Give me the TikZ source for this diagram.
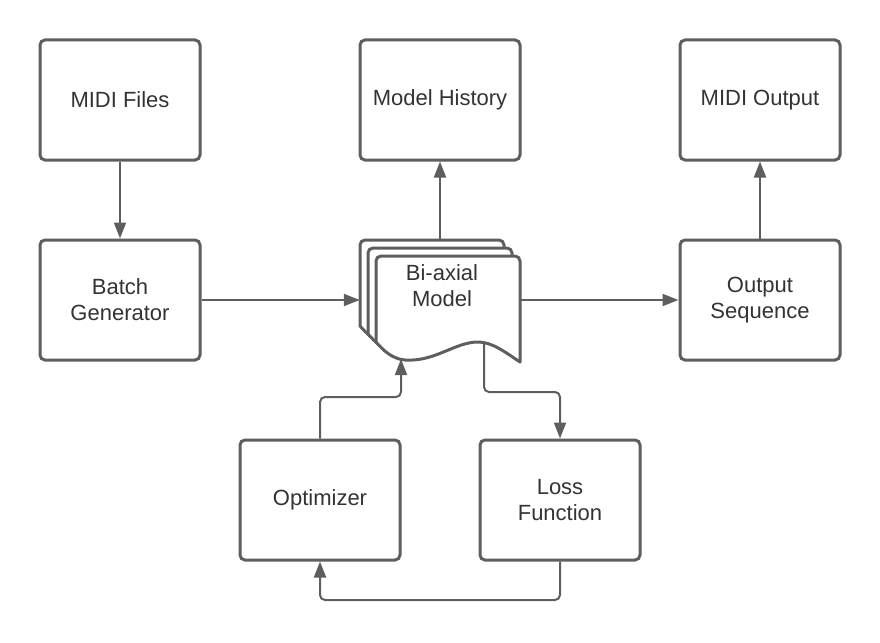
\documentclass[tikz,border=0pt]{standalone}
\usepackage{fontspec}
\setmainfont{Liberation Sans}
\usetikzlibrary{arrows.meta,calc}
\definecolor{lineg}{HTML}{5E5E5E}
\definecolor{textg}{HTML}{333333}
\begin{document}
\begin{tikzpicture}[x=1pt,y=-1pt,
  box/.style={draw=lineg, line width=3pt, rounded corners=5pt, fill=white,
    minimum width=160pt, minimum height=120pt, align=center, text=textg,
    font=\fontsize{22}{26}\selectfont},
  conn/.style={draw=lineg, line width=2pt, rounded corners=5pt,
    -{Triangle[length=16pt,width=12pt]}},
  page/.style={draw=lineg, line width=3pt, fill=white, line join=round}]
\useasboundingbox (0,0) rectangle (880,642);

\node[box] (files) at (120,100) {MIDI Files};
\node[box] (history) at (440,100) {Model History};
\node[box] (midiout) at (760,100) {MIDI Output};
\node[box] (batch) at (120,300) {Batch\\Generator};
\node[box] (outseq) at (760,300) {Output\\Sequence};
\node[box] (optim) at (320,500) {Optimizer};
\node[box] (loss) at (560,500) {Loss\\Function};

% multi-document shape
\foreach \d in {16,8,0}{
  \begin{scope}[shift={(-\d,-\d)}]
  \path[page] (376,342) -- (376,261) [rounded corners=5pt] -- (376,256) -- (520,256) [sharp corners] -- (520,362)
    .. controls (505,352) and (492,342) .. (478,342)
    .. controls (455,342) and (435,362) .. (405,360)
    .. controls (392,359) and (383,350) .. (376,342) -- cycle;
  \end{scope}
}
\node[minimum width=160pt, minimum height=120pt, inner sep=0pt] (model) at (440,300) {};
\node[text=textg, font=\fontsize{22}{26}\selectfont, align=center] (modeltext) at (442,286) {Bi-axial\\Model};
\coordinate (mout) at (484,344);
\coordinate (min) at (401,359);

\draw[conn] (files.south) -- (batch.north);
\draw[conn] (batch.east) -- (model.west);
\draw[conn] (model.north) -- (history.south);
\draw[conn] (model.east) -- (outseq.west);
\draw[conn] (outseq.north) -- (midiout.south);
\draw[conn] (mout) |- (560,392) -- (loss.north);
\draw[conn] (optim.north) |- (401,397) -- (min);
\draw[conn] (loss.south) |- (320,600) -- (optim.south);
\end{tikzpicture}
\end{document}
